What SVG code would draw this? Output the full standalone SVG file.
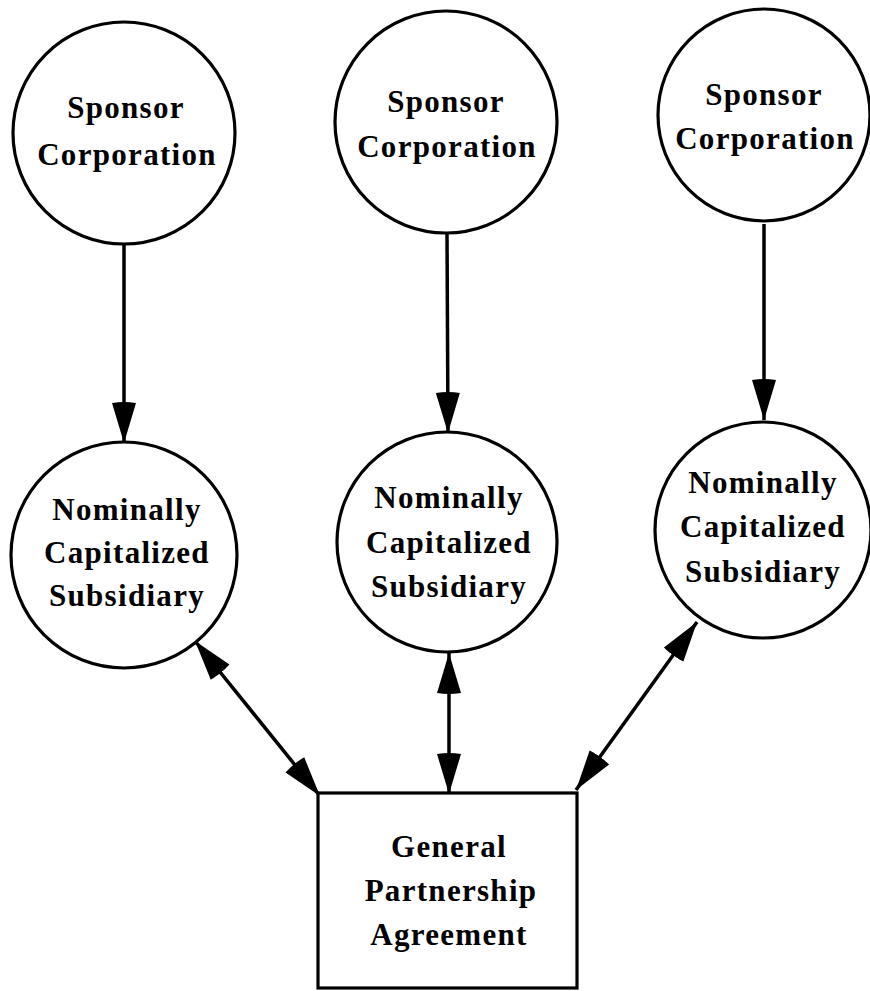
<svg xmlns="http://www.w3.org/2000/svg" width="870" height="991" viewBox="0 0 870 991">
<defs>
<style>
.node circle, .node rect { fill: #fff; stroke: #000; stroke-width: 3.2; }
.node text { font-family: "Liberation Serif", "Times New Roman", serif; font-weight: bold; font-size: 31px; letter-spacing: 1.3px; text-anchor: middle; fill: #000; }
#connectors line { stroke: #000; stroke-width: 3.5; marker-end: url(#ah); }
#connectors line.both { marker-start: url(#ah); }
</style>
<marker id="ah" markerUnits="userSpaceOnUse" viewBox="0 0 42 26" refX="41" refY="13" markerWidth="42" markerHeight="26" orient="auto-start-reverse">
<path d="M1,1 L41,13 L1,25 Q-1,13 1,1 Z" fill="#000"/>
</marker>
</defs>
<rect width="870" height="991" fill="#fff"/>
<g id="connectors">
<line x1="124" y1="244" x2="124" y2="443"/>
<line x1="447" y1="233" x2="448" y2="433"/>
<line x1="764" y1="224" x2="764" y2="420"/>
<line class="both" x1="195" y1="641" x2="320" y2="796"/>
<line class="both" x1="449" y1="653" x2="449" y2="794"/>
<line class="both" x1="697" y1="622" x2="576" y2="790"/>
</g>
<g id="sponsor1" class="node">
<circle cx="124" cy="133" r="111"/>
<text x="126" y="118">Sponsor</text>
<text x="127" y="165">Corporation</text>
</g>
<g id="sponsor2" class="node">
<circle cx="446" cy="122" r="111"/>
<text x="446" y="112">Sponsor</text>
<text x="447" y="157">Corporation</text>
</g>
<g id="sponsor3" class="node">
<circle cx="764" cy="115" r="106"/>
<text x="764" y="105">Sponsor</text>
<text x="765" y="149">Corporation</text>
</g>
<g id="sub1" class="node">
<circle cx="124" cy="555" r="113"/>
<text x="127" y="520">Nominally</text>
<text x="127" y="563">Capitalized</text>
<text x="127" y="606">Subsidiary</text>
</g>
<g id="sub2" class="node">
<circle cx="447" cy="542" r="110"/>
<text x="449" y="508">Nominally</text>
<text x="449" y="553">Capitalized</text>
<text x="449" y="597">Subsidiary</text>
</g>
<g id="sub3" class="node">
<circle cx="763" cy="530" r="108"/>
<text x="763" y="493">Nominally</text>
<text x="763" y="537">Capitalized</text>
<text x="763" y="582">Subsidiary</text>
</g>
<g id="gpa" class="node">
<rect x="318" y="793" width="259" height="195"/>
<text x="449" y="857">General</text>
<text x="451" y="901">Partnership</text>
<text x="449" y="945">Agreement</text>
</g>
</svg>
